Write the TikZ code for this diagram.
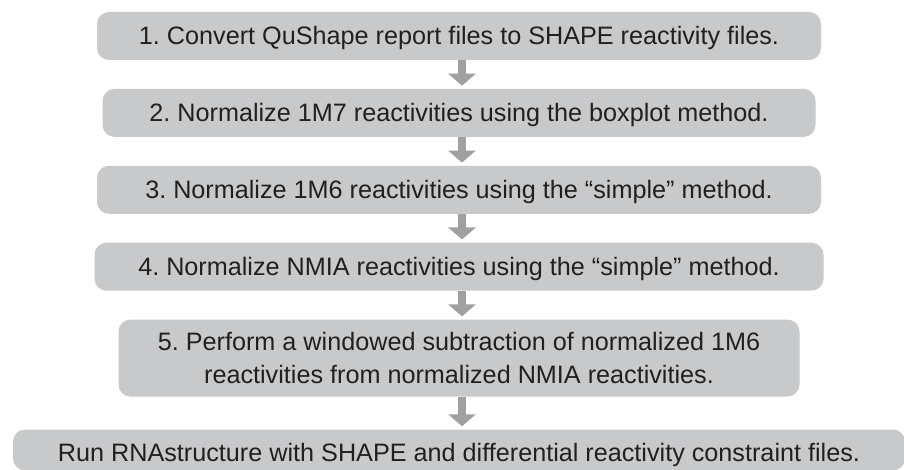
\documentclass[tikz,border=0pt]{standalone}
\usepackage{fontspec}
\setmainfont{Liberation Sans}
\frenchspacing
\usetikzlibrary{positioning}
\usetikzlibrary{arrows.meta}
\definecolor{boxgray}{HTML}{C8C9CB}
\definecolor{arrowgray}{HTML}{9FA0A2}
\definecolor{inkgray}{HTML}{231F20}
\tikzset{edge/.style = {-{Triangle[width=27pt,length=12pt]}, line width=8pt, draw=arrowgray, shorten >=3pt}}

\begin{document}
\begin{tikzpicture}[x=1pt,y=1pt,node distance=28.5pt,
    step box/.style={fill=boxgray,rounded corners=12pt,inner sep=0pt,minimum height=48pt,text=inkgray,font=\fontsize{25.2}{32.5}\selectfont},
    one line/.style={text height=18pt,text depth=0pt}]
            \useasboundingbox (0,0) rectangle (904,469);
            \node[step box,one line,minimum width=724pt] (1) at (459,433) {1. Convert QuShape report files to SHAPE reactivity files.};
            \node[step box,one line,minimum width=713pt] (2) [below=of 1] {2. Normalize 1M7 reactivities using the boxplot method.};
            \node[step box,one line,minimum width=724pt] (3) [below=of 2] {3. Normalize 1M6 reactivities using the ``simple'' method.};
            \node[step box,one line,minimum width=729pt] (4) [below=of 3] {4. Normalize NMIA reactivities using the ``simple'' method.};
            \node[step box,minimum width=681pt,minimum height=77pt,align=center] (5) [below=of 4] {5. Perform a windowed subtraction of normalized 1M6\\reactivities from normalized NMIA reactivities.};
            \node[step box,one line,minimum width=892pt,minimum height=41pt,text height=23pt] (6) [below=32.5pt of 5] {Run RNAstructure with SHAPE and differential reactivity constraint files.};
            \draw[edge] ([xshift=3pt]1.south) to[] ([xshift=3pt]2.north);
            \draw[edge] ([xshift=3pt]2.south) to[] ([xshift=3pt]3.north);
            \draw[edge] ([xshift=3pt]3.south) to[] ([xshift=3pt]4.north);
            \draw[edge] ([xshift=3pt]4.south) to[] ([xshift=3pt]5.north);
            \draw[edge] ([xshift=3pt]5.south) to[] ([xshift=3pt]6.north);
        \end{tikzpicture}
\end{document}
